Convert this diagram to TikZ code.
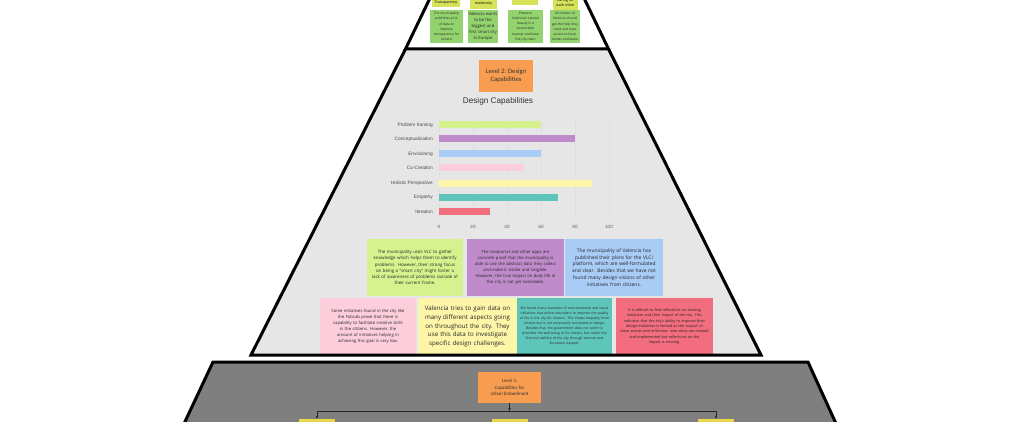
\documentclass[tikz,border=0pt]{standalone}
\usepackage{fontspec}
\setmainfont{Open Sans}
\newfontfamily\chartfont{Liberation Sans}
\newfontfamily\lvlfont{Carlito}
\usepackage{tikz}
\usetikzlibrary{arrows.meta,positioning,calc}

\definecolor{lvlgray}{HTML}{E6E6E6}
\definecolor{lvldark}{HTML}{7F7F7F}
\definecolor{lvlorange}{HTML}{F89D50}
\definecolor{hdrgreen}{HTML}{D6E35A}
\definecolor{notegreen}{HTML}{93D36E}
\definecolor{cLime}{HTML}{D5F28E}
\definecolor{cPurple}{HTML}{C08BCB}
\definecolor{cBlue}{HTML}{A8CCF6}
\definecolor{cPink}{HTML}{FCCEDC}
\definecolor{cYellow}{HTML}{FDF6A8}
\definecolor{cTeal}{HTML}{5EC5BB}
\definecolor{cRed}{HTML}{F26D7D}
\definecolor{ybox}{HTML}{E9D84C}

\begin{document}
\begin{tikzpicture}[x=1pt, y=-1pt,
    pyr/.style={line width=3pt, line join=miter},
    lvl/.style={fill=lvlorange, align=center, inner sep=0pt, text=black!80},
    hdr/.style={fill=hdrgreen, align=center, inner sep=0pt, font=\fontsize{3.6}{4.6}\selectfont},
    stk/.style={fill=notegreen, align=center, inner sep=0pt, minimum height=33pt,
      font=\fontsize{3.3}{5.2}\selectfont, text=black!85},
    note/.style={fill=#1, align=center, inner sep=0pt, minimum height=57pt, text=black!85},
    bl/.style={anchor=east, inner sep=0pt, font=\chartfont\fontsize{4.8}{5}\selectfont, text=black!70},
    tk/.style={inner sep=0pt, font=\chartfont\fontsize{4.6}{5}\selectfont, text=black!65},
    grd/.style={draw=black!12, line width=0.4pt},
    ed/.style={draw=black!85, line width=0.7pt},
    ar/.style={ed, -{Stealth[length=3pt,width=2.5pt]}},
    yb/.style={fill=ybox, minimum width=36pt, minimum height=12pt, inner sep=0pt}
  ]
  \useasboundingbox (0,0) rectangle (1024,422);

  % level 2 and level 3 areas
  \fill[lvlgray] (405.5,49) -- (608.5,49) -- (761,355) -- (251,355) -- cycle;
  \fill[lvldark] (213,362) -- (808,362) -- (838,428) -- (182,428) -- cycle;

  % level 1 (cut at the top)
  \node[hdr, minimum width=28pt, minimum height=10pt] (h1) at (446,2.5) {Transparency};
  \node[hdr, minimum width=27pt, minimum height=15pt] (h2) at (483.5,1.5) {Strive for\\modernity};
  \node[hdr, minimum width=26pt, minimum height=13pt] (h3) at (525,-1.5) {};
  \node[hdr, minimum width=25pt, minimum height=15pt] (h4) at (565.5,2.5) {Caring for\\each other};
  \node[stk, minimum width=33pt] (s1) at (446.5,26.5)
    {The municipality\\publishes a lot\\of data to\\improve\\transparency for\\citizens};
  \node[stk, minimum width=30pt, font=\fontsize{4.2}{6.2}\selectfont] (s2) at (483,26.5)
    {Valencia wants\\to be the\\biggest and\\first smart city\\in Europe};
  \node[stk, minimum width=35pt] (s3) at (525.5,26.5)
    {Preserve\\Valencia's natural\\beauty in a\\sustainable\\manner and keep\\the city clean};
  \node[stk, minimum width=30pt] (s4) at (565,26.5)
    {All citizens of\\Valencia should\\get the help they\\need and have\\access to food,\\shelter and water};

  % level 2
  \node[lvl, minimum width=54pt, minimum height=32pt, font=\lvlfont\fontsize{6.6}{8.4}\selectfont]
    (lvl2) at (506,76) {Level 2: Design\\Capabilities};
  \node[inner sep=0pt, font=\chartfont\fontsize{8.2}{9}\selectfont, text=black!80]
    (title) at (498,101.5) {Design Capabilities};

  % chart
  \draw[grd] (439,117) -- (439,218);
  \draw[grd] (473,117) -- (473,218);
  \draw[grd] (507,117) -- (507,218);
  \draw[grd] (541,117) -- (541,218);
  \draw[grd] (575,117) -- (575,218);
  \draw[grd] (609,117) -- (609,218);
  \fill[cLime]   (439,121.5) rectangle (541,128.5);
  \fill[cPurple] (439,135.5) rectangle (575,142.5);
  \fill[cBlue]   (439,150.5) rectangle (541,157.5);
  \fill[cPink]   (439,164.5) rectangle (524,171.5);
  \fill[cYellow] (439,179.5) rectangle (592,186.5);
  \fill[cTeal]   (439,193.5) rectangle (558,200.5);
  \fill[cRed]    (439,208)   rectangle (490,215);
  \node[bl] (bpf)  at (433,125) {Problem framing};
  \node[bl] (bcon) at (433,139) {Conceptualization};
  \node[bl] (benv) at (433,154) {Envisioning};
  \node[bl] (bcoc) at (433,168) {Co-Creation};
  \node[bl] (bhol) at (433,183) {Holistic Perspective};
  \node[bl] (bemp) at (433,197) {Empathy};
  \node[bl] (bite) at (433,211.5) {Iteration};
  \node[tk] (t0)   at (439,227) {0};
  \node[tk] (t20)  at (473,227) {20};
  \node[tk] (t40)  at (507,227) {40};
  \node[tk] (t60)  at (541,227) {60};
  \node[tk] (t80)  at (575,227) {80};
  \node[tk] (t100) at (609,227) {100};

  % notes
  \node[note=cLime, minimum width=96pt, text width=92pt, font=\fontsize{4.4}{6.1}\selectfont]
    (nA) at (415,267.5)
    {The municipality uses VLC to gather\\knowledge which helps them to identify\\problems. However, their strong focus\\on being a ``smart city'' might foster a\\lack of awareness of problems outside of\\their current frame.};
  \node[note=cPurple, minimum width=97pt, text width=93pt, font=\fontsize{4.2}{6}\selectfont]
    (nB) at (515.5,267.5)
    {The Geoportal and other apps are\\concrete proof that the municipality is\\able to use the abstract data they collect\\and make it visible and tangible.\\However, the true impact on daily life in\\the city is not yet noticeable.};
  \node[note=cBlue, minimum width=98pt, text width=94pt, font=\fontsize{4.9}{6.8}\selectfont]
    (nC) at (614,267.5)
    {The municipality of Valencia has\\published their plans for the VLCi\\platform, which are well-formulated\\and clear. Besides that we have not\\found many design visions of other\\initiatives from citizens.};
  \node[note=cPink, minimum width=96pt, text width=92pt, font=\fontsize{4.2}{6}\selectfont]
    (nD) at (368,326.5)
    {Some initiatives found in the city like\\the FabLab prove that there is\\capability to facilitate creative skills\\in the citizens. However, the\\amount of initiatives helping in\\achieving this goal is very low.};
  \node[note=cYellow, minimum width=99pt, text width=95pt, font=\fontsize{6.2}{8.6}\selectfont]
    (nE) at (467.5,326.5)
    {Valencia tries to gain data on\\many different aspects going\\on throughout the city. They\\use this data to investigate\\specific design challenges.};
  \node[note=cTeal, minimum width=95pt, text width=92pt, font=\fontsize{3.4}{5}\selectfont]
    (nF) at (564.5,326.5)
    {We found many examples of environmental and social\\initiatives that utilize volunteers to improve the quality\\of life in the city for citizens. This shows empathy from\\citizens but is not necessarily connected to design.\\Besides that, the government does not seem to\\prioritize the well-being of its citizens, but rather the\\financial welfare of the city through tourism and\\European support.};
  \node[note=cRed, minimum width=97pt, text width=93pt, font=\fontsize{3.7}{5.4}\selectfont]
    (nG) at (664.5,326.5)
    {It is difficult to find reflections on existing\\initiatives and their impact of the city. This\\indicates that the city's ability to improve their\\design/initiatives is limited as the `output' of\\ideas events and reflection: new ideas are created\\and implemented but reflections on the\\impact is missing.};

  % level 3
  \node[lvl, minimum width=63pt, minimum height=31pt, font=\lvlfont\fontsize{4.9}{6.6}\selectfont]
    (lvl3) at (509.5,387.5) {Level 3:\\Capabilities for\\Urban Embedment};
  \coordinate (bus) at (509.5,411);
  \node[yb] (ybl) at (317,425) {};
  \node[yb] (ybc) at (509.5,425) {};
  \node[yb] (ybr) at (716,425) {};
  \draw[ar] (lvl3) -- (bus);
  \draw[ed] (ybl.north |- bus) -- (ybr.north |- bus);
  \draw[ar] (ybl.north |- bus) -- (ybl.north);
  \draw[ar] (ybr.north |- bus) -- (ybr.north);

  % outlines
  \draw[pyr] (431,-4) -- (405.5,49) -- (608.5,49) -- (583,-4);
  \draw[pyr] (405.5,49) -- (251,355) -- (761,355) -- (608.5,49);
  \draw[pyr] (182,428) -- (213,362) -- (808,362) -- (838,428);
\end{tikzpicture}
\end{document}
